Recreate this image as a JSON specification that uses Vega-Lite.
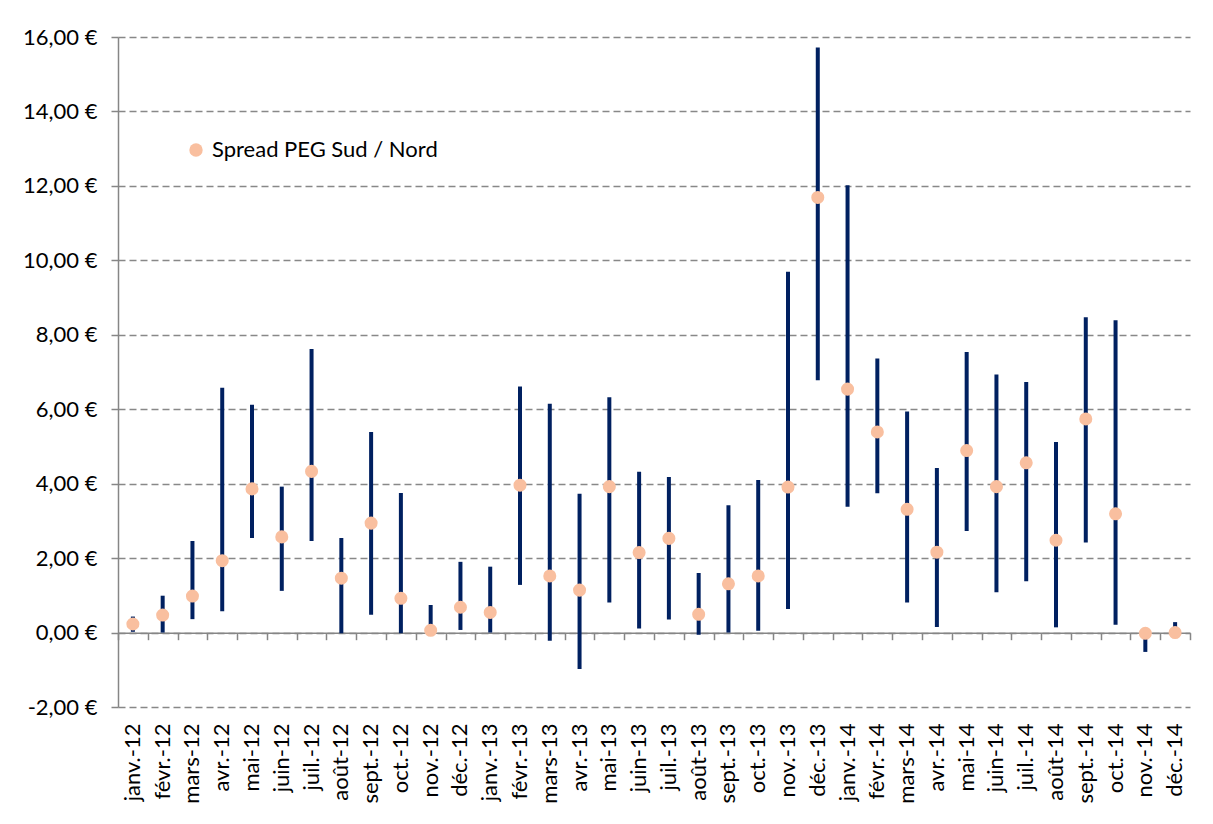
{
  "$schema": "https://vega.github.io/schema/vega-lite/v6.json",
  "autosize": "none",
  "width": 1072,
  "height": 670,
  "padding": {"left": 118, "top": 37, "right": 23, "bottom": 117},
  "background": "white",
  "config": {
    "view": {"stroke": null},
    "font": "Lato",
    "axis": {"labelFont": "Lato", "labelFontSize": 22, "labelColor": "#000000", "domainColor": "#868686", "tickColor": "#868686"}
  },
  "data": {
    "values": [
      {"m": "janv.-12", "lo": 0.02, "hi": 0.43, "v": 0.23},
      {"m": "févr.-12", "lo": 0.0, "hi": 0.99, "v": 0.47},
      {"m": "mars-12", "lo": 0.36, "hi": 2.46, "v": 0.98},
      {"m": "avr.-12", "lo": 0.57, "hi": 6.58, "v": 1.93},
      {"m": "mai-12", "lo": 2.54, "hi": 6.12, "v": 3.86},
      {"m": "juin-12", "lo": 1.12, "hi": 3.92, "v": 2.57},
      {"m": "juil.-12", "lo": 2.46, "hi": 7.62, "v": 4.33},
      {"m": "août-12", "lo": -0.02, "hi": 2.54, "v": 1.46},
      {"m": "sept.-12", "lo": 0.48, "hi": 5.39, "v": 2.94},
      {"m": "oct.-12", "lo": -0.02, "hi": 3.75, "v": 0.92},
      {"m": "nov.-12", "lo": 0.0, "hi": 0.74, "v": 0.06},
      {"m": "déc.-12", "lo": 0.07, "hi": 1.9, "v": 0.68},
      {"m": "janv.-13", "lo": 0.0, "hi": 1.77, "v": 0.54},
      {"m": "févr.-13", "lo": 1.28, "hi": 6.61, "v": 3.96},
      {"m": "mars-13", "lo": -0.22, "hi": 6.15, "v": 1.52},
      {"m": "avr.-13", "lo": -0.98, "hi": 3.73, "v": 1.14},
      {"m": "mai-13", "lo": 0.81, "hi": 6.32, "v": 3.92},
      {"m": "juin-13", "lo": 0.11, "hi": 4.32, "v": 2.15},
      {"m": "juil.-13", "lo": 0.35, "hi": 4.18, "v": 2.53},
      {"m": "août-13", "lo": -0.06, "hi": 1.6, "v": 0.49},
      {"m": "sept.-13", "lo": 0.0, "hi": 3.42, "v": 1.31},
      {"m": "oct.-13", "lo": 0.05, "hi": 4.1, "v": 1.52},
      {"m": "nov.-13", "lo": 0.63, "hi": 9.69, "v": 3.91},
      {"m": "déc.-13", "lo": 6.78, "hi": 15.72, "v": 11.69},
      {"m": "janv.-14", "lo": 3.38, "hi": 12.02, "v": 6.54},
      {"m": "févr.-14", "lo": 3.74, "hi": 7.36, "v": 5.39},
      {"m": "mars-14", "lo": 0.81, "hi": 5.94, "v": 3.31},
      {"m": "avr.-14", "lo": 0.15, "hi": 4.42, "v": 2.16},
      {"m": "mai-14", "lo": 2.73, "hi": 7.54, "v": 4.89},
      {"m": "juin-14", "lo": 1.08, "hi": 6.93, "v": 3.92},
      {"m": "juil.-14", "lo": 1.38, "hi": 6.73, "v": 4.56},
      {"m": "août-14", "lo": 0.14, "hi": 5.12, "v": 2.48},
      {"m": "sept.-14", "lo": 2.42, "hi": 8.47, "v": 5.74},
      {"m": "oct.-14", "lo": 0.21, "hi": 8.39, "v": 3.19},
      {"m": "nov.-14", "lo": -0.52, "hi": 0.0, "v": -0.02},
      {"m": "déc.-14", "lo": 0.0, "hi": 0.28, "v": 0.0}
    ]
  },
  "layer": [
    {
      "mark": {"type": "rule", "color": "#002060", "strokeWidth": 4, "strokeCap": "butt"},
      "encoding": {
        "x": {
          "field": "m", "type": "nominal", "sort": null,
          "scale": {"paddingInner": 0, "paddingOuter": 0},
          "axis": {"orient": "bottom", "title": null, "labelAngle": -90, "labelAlign": "right", "labelBaseline": "middle", "domain": false, "ticks": false, "tickSize": 0, "labelPadding": 16, "grid": false}
        },
        "y": {
          "field": "lo", "type": "quantitative",
          "scale": {"domain": [-2, 16], "nice": false, "zero": false},
          "axis": {
            "title": null, "values": [-2, 0, 2, 4, 6, 8, 10, 12, 14, 16],
            "grid": true, "gridDash": [7, 4], "gridColor": "#888888", "gridWidth": 1.5,
            "domain": true, "domainWidth": 1.5, "ticks": true, "tickSize": 7, "tickWidth": 1.5,
            "labelPadding": 14,
            "labelExpr": "(datum.value < 0 ? '-' : '') + replace(format(abs(datum.value), '.2f'), '.', ',') + ' €'"
          }
        },
        "y2": {"field": "hi"}
      }
    },
    {
      "mark": {"type": "point", "filled": true, "opacity": 1, "size": 170, "shape": "circle"},
      "encoding": {
        "x": {
          "field": "m", "type": "nominal", "sort": null,
          "axis": {"orient": "bottom", "title": null, "labels": false, "domain": true, "domainWidth": 1.5, "ticks": true, "tickSize": 7, "tickWidth": 1.5, "tickBand": "extent", "offset": -74.3, "grid": false}
        },
        "y": {"field": "v", "type": "quantitative"},
        "color": {
          "datum": "Spread PEG Sud / Nord",
          "scale": {"range": ["#F9BF9F"]},
          "legend": {"orient": "none", "legendX": 67, "legendY": 102, "title": null, "labelFont": "Lato", "labelFontSize": 22, "labelColor": "#000000", "labelLimit": 500, "symbolSize": 180, "symbolType": "circle", "symbolOpacity": 1, "labelOffset": 5}
        }
      }
    }
  ],
  "resolve": {"axis": {"x": "independent"}}
}
